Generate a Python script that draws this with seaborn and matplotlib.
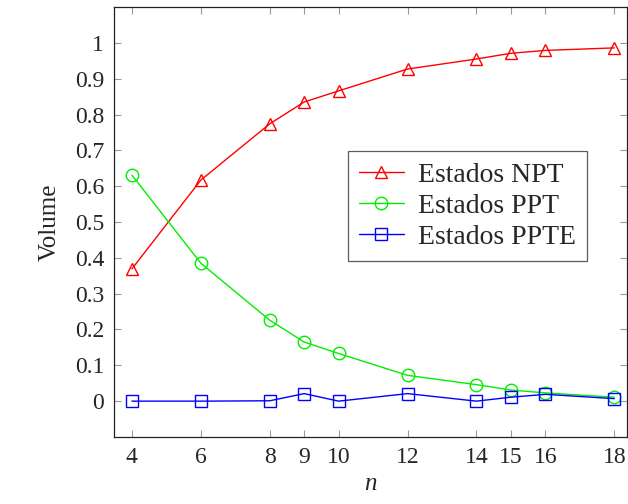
import pandas as pd
import seaborn as sns
import matplotlib.pyplot as plt

# Data
n = [4, 6, 8, 9, 10, 12, 14, 15, 16, 18]
npt = [0.369, 0.617, 0.774, 0.835, 0.866, 0.927, 0.955, 0.971, 0.979, 0.986]
ppt = [0.631, 0.385, 0.226, 0.165, 0.133, 0.072, 0.046, 0.031, 0.023, 0.011]
ppte = [0.0, 0.0, 0.001, 0.021, 0.0, 0.021, 0.0, 0.011, 0.019, 0.007]
y_ticks = [0, 0.1, 0.2, 0.3, 0.4, 0.5, 0.6, 0.7, 0.8, 0.9, 1]
y_labels = ["0", "0.1", "0.2", "0.3", "0.4", "0.5", "0.6", "0.7", "0.8", "0.9", "1"]

df = pd.DataFrame({"n": n, "Estados NPT": npt, "Estados PPT": ppt, "Estados PPTE": ppte})

sns.set_style("ticks")
plt.rcParams['font.family'] = ['Liberation Serif', 'DejaVu Serif']
plt.rcParams['mathtext.fontset'] = 'custom'
plt.rcParams['mathtext.it'] = 'Liberation Serif:italic'

fig = plt.figure(figsize=(6.28, 5.04), dpi=100)
ax = fig.add_axes([0.1815, 0.133, 0.8175, 0.853])

styles = [("Estados NPT", "#ff0000", "^", 8),
          ("Estados PPT", "#00ee00", "o", 9),
          ("Estados PPTE", "#0000ff", "s", 8)]
for name, col, mk, ms in styles:
    sns.lineplot(data=df, x="n", y=name, ax=ax, color=col, marker=mk, markersize=ms,
                 markerfacecolor="none", markeredgecolor=col, markeredgewidth=1,
                 linewidth=1, label=name)

ax.set_xlim(3.48, 18.38)
ax.set_ylim(-0.1, 1.1)
ax.set_xticks(n)
ax.set_xticklabels([str(v) for v in n])
ax.set_yticks(y_ticks)
ax.set_yticklabels(y_labels)
ax.tick_params(direction="in", length=5, width=0.8, color="#999999",
               top=True, right=True, labelsize=17, pad=7)
for s in ax.spines.values():
    s.set_linewidth(0.9)
    s.set_color("#222222")

ax.set_xlabel("$n$", fontsize=18, labelpad=4)
ax.set_ylabel("Volume", fontsize=18, labelpad=10)

leg = ax.legend(loc="center left", bbox_to_anchor=(0.456, 0.537), fontsize=20,
                frameon=True, fancybox=False, edgecolor="#333333",
                handlelength=1.6, borderpad=0.4, labelspacing=0.2, handletextpad=0.5,
                borderaxespad=0)
leg.get_frame().set_linewidth(0.9)

fig.savefig("out.png", dpi=100)
